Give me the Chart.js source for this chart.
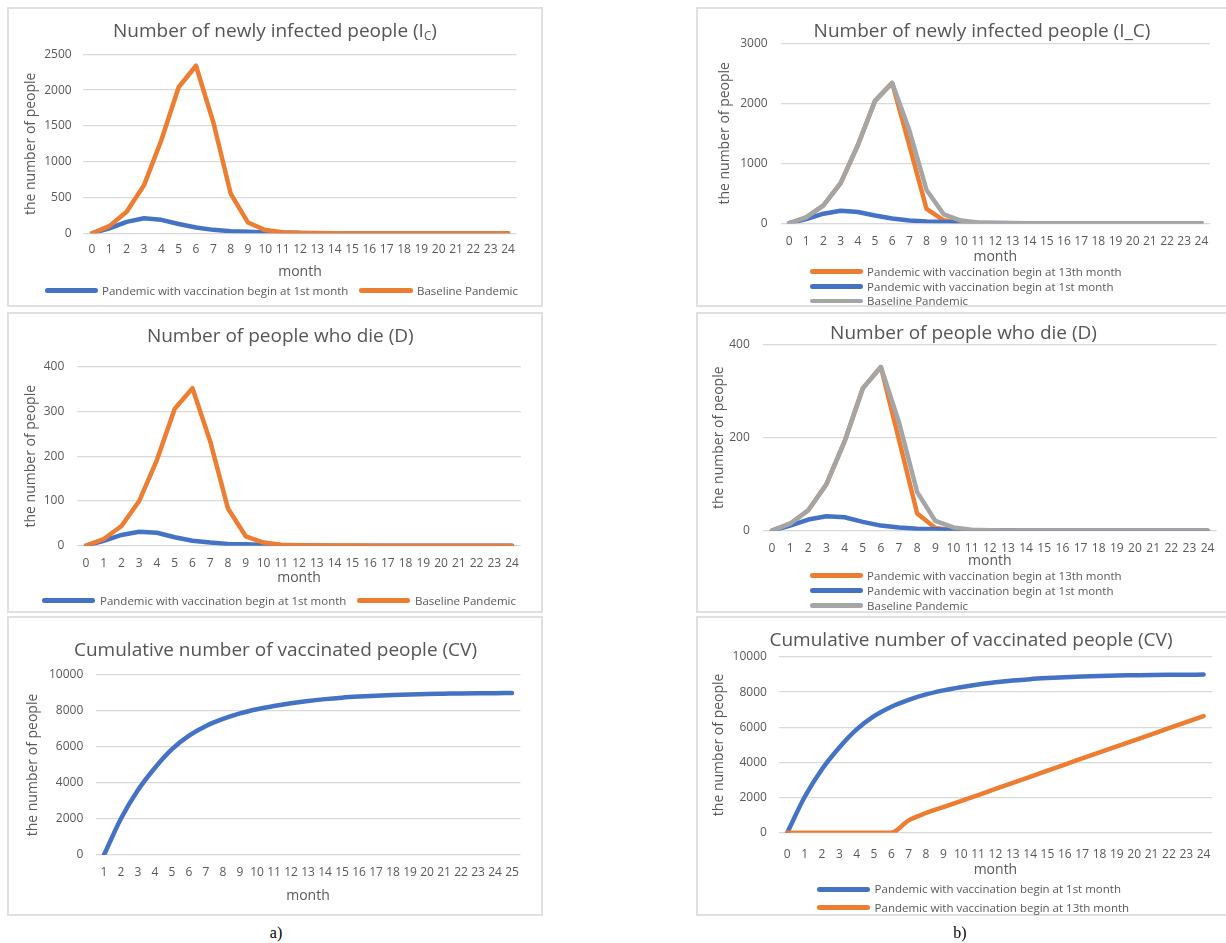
<!DOCTYPE html>
<html><head><meta charset="utf-8">
<script src="https://cdn.jsdelivr.net/npm/chart.js@4.4.0/dist/chart.umd.min.js"></script>
<style>
html,body{margin:0;padding:0;background:#fff;}
body{width:1226px;height:943px;position:relative;overflow:hidden;font-family:'Open Sans',sans-serif;}
.panel{position:absolute;box-sizing:border-box;border:2px solid #e0e0e0;}
canvas{position:absolute;}
.title{position:absolute;transform:translate(-50%,-50%);white-space:nowrap;color:#555555;font-size:19px;line-height:1.2;}
.title sub{font-size:0.62em;vertical-align:-0.3em;line-height:0;}
.legtxt{position:absolute;white-space:nowrap;color:#595959;font-size:11.5px;line-height:14px;}
.legline{position:absolute;height:4.5px;border-radius:2.25px;}
.cap{position:absolute;transform:translate(-50%,-50%);font-family:'Liberation Serif',serif;font-size:16px;color:#000;}
</style></head><body>
<script>
// ---------------- data ----------------
const months = ['0','1','2','3','4','5','6','7','8','9','10','11','12','13','14','15','16','17','18','19','20','21','22','23','24'];
const cvMonths = ['1','2','3','4','5','6','7','8','9','10','11','12','13','14','15','16','17','18','19','20','21','22','23','24','25'];

const infectedBaseline = [0,100,300,670,1300,2040,2340,1550,555,150,45,15,6,3,2,1,1,1,0,0,0,0,0,0,0];
const infectedVacc1st  = [0,70,160,210,188,130,80,48,30,20,12,6,3,2,1,1,0,0,0,0,0,0,0,0,0];
const infectedVacc13th = [0,100,300,670,1300,2040,2340,1300,240,50,8,2,1,0,0,0,0,0,0,0,0,0,0,0,0];

const deathsBaseline = [0,15,44,100,192,306,352,233,83,21,7,2,1,0.5,0.3,0.2,0.1,0.1,0,0,0,0,0,0,0];
const deathsVacc1st  = [0,11,24,31,29,19,11,7,4,3,1.5,0.8,0.4,0.2,0.1,0,0,0,0,0,0,0,0,0,0];
const deathsVacc13th = [0,15,44,100,192,306,352,195,37,6,1,0.2,0,0,0,0,0,0,0,0,0,0,0,0,0];

const cvVacc1st  = [0,2030,3610,4850,5880,6630,7170,7560,7870,8100,8280,8430,8560,8660,8740,8800,8850,8890,8920,8945,8960,8975,8985,8992,9000];
const cvVacc13th = [0,0,0,0,0,0,0,700,1120,1460,1800,2145,2490,2835,3180,3530,3880,4225,4570,4910,5250,5600,5950,6300,6640];

const nameVacc1st = 'Pandemic with vaccination begin at 1st month';
const nameVacc13th = 'Pandemic with vaccination begin at 13th month';
const nameBaseline = 'Baseline Pandemic';

// ---------------- styles ----------------
const BLUE = '#4472C4', ORANGE = '#ED7D31', GRAY = '#A5A5A5';
const TXT = '#595959', GRID = '#d9d9d9';
const FONT = "'Open Sans', sans-serif";
const TICK_FONT = 12, YT_FONT = 14, XT_FONT = 14, LINE_W = 4.5;

// ---------------- layout ----------------
const panels = [
  {x:7,y:7,w:536,h:300},{x:7,y:312,w:536,h:301},{x:7,y:616,w:536,h:300},
  {x:696,y:7,w:532,h:300},{x:696,y:312,w:532,h:301},{x:696,y:616,w:532,h:300}
];

const charts = [
  { // a) infected
    rect:{x:8,y:8,w:534,h:298},
    spec:{L:83.3,R:516.7,T:54.3,B:233.3,yLabR:71.7,yTitleX:31,xLabY:250,xTitleY:271.7},
    title:'Number of newly infected people (I<sub>C</sub>)', titlePos:[275,30],
    labels:months, yMax:2500, yStep:500, smooth:false,
    series:[{name:nameVacc1st,data:infectedVacc1st,color:BLUE,order:1},
            {name:nameBaseline,data:infectedBaseline,color:ORANGE,order:0}],
    legend:[{i:0,x1:45,x2:98,tx:102,y:290.7},{i:1,x1:359,x2:413,tx:417,y:290.7}]
  },
  { // a) deaths
    rect:{x:8,y:313,w:534,h:299},
    spec:{L:77.1,R:520.9,T:366.7,B:545.7,yLabR:64.3,yTitleX:31,xLabY:563.3,xTitleY:577.7},
    title:'Number of people who die (D)', titlePos:[280.3,335],
    labels:months, yMax:400, yStep:100, smooth:false,
    series:[{name:nameVacc1st,data:deathsVacc1st,color:BLUE,order:1},
            {name:nameBaseline,data:deathsBaseline,color:ORANGE,order:0}],
    legend:[{i:0,x1:42,x2:95,tx:100,y:600.7},{i:1,x1:357,x2:410,tx:415,y:600.7}]
  },
  { // a) CV
    rect:{x:8,y:617,w:534,h:298},
    spec:{L:95.5,R:520.5,T:675,B:855,yLabR:83.3,yTitleX:33,xLabY:872.7,xTitleY:896},
    title:'Cumulative number of vaccinated people (CV)', titlePos:[275.5,649],
    labels:cvMonths, yMax:10000, yStep:2000, smooth:true,
    series:[{name:nameVacc1st,data:cvVacc1st,color:BLUE,order:0}],
    legend:[]
  },
  { // b) infected
    rect:{x:697,y:8,w:528,h:298},
    spec:{L:780.5,R:1210,T:43.3,B:223.3,yLabR:767.6,yTitleX:724.7,xLabY:241.7,xTitleY:256.7},
    title:'Number of newly infected people (I_C)', titlePos:[982,30],
    labels:months, yMax:3000, yStep:1000, smooth:false,
    series:[{name:nameVacc13th,data:infectedVacc13th,color:ORANGE,order:2},
            {name:nameVacc1st,data:infectedVacc1st,color:BLUE,order:1},
            {name:nameBaseline,data:infectedBaseline,color:GRAY,order:0}],
    legend:[{i:0,x1:809.7,x2:862.6,tx:867.1,y:271.7},{i:1,x1:809.7,x2:862.6,tx:867.1,y:286.7},{i:2,x1:809.7,x2:862.6,tx:867.1,y:301}]
  },
  { // b) deaths
    rect:{x:697,y:313,w:528,h:299},
    spec:{L:762.9,R:1217.1,T:344.7,B:530.7,yLabR:749.8,yTitleX:719,xLabY:548.3,xTitleY:560.7},
    title:'Number of people who die (D)', titlePos:[963.5,331.7],
    labels:months, yMax:400, yStep:200, smooth:false,
    series:[{name:nameVacc13th,data:deathsVacc13th,color:ORANGE,order:2},
            {name:nameVacc1st,data:deathsVacc1st,color:BLUE,order:1},
            {name:nameBaseline,data:deathsBaseline,color:GRAY,order:0}],
    legend:[{i:0,x1:809.7,x2:862.6,tx:867.1,y:575.7},{i:1,x1:809.7,x2:862.6,tx:867.1,y:590.7},{i:2,x1:809.7,x2:862.6,tx:867.1,y:605.7}]
  },
  { // b) CV
    rect:{x:697,y:617,w:528,h:298},
    spec:{L:778.6,R:1217.8,T:657,B:832.7,yLabR:766.9,yTitleX:719,xLabY:854.3,xTitleY:870.3},
    title:'Cumulative number of vaccinated people (CV)', titlePos:[971,638.7],
    labels:months, yMax:10000, yStep:2000, smooth:true,
    series:[{name:nameVacc1st,data:cvVacc1st,color:BLUE,order:1},
            {name:nameVacc13th,data:cvVacc13th,color:ORANGE,order:0}],
    legend:[{i:0,x1:817.2,x2:870.2,tx:874.6,y:889.3},{i:1,x1:817.2,x2:870.2,tx:874.6,y:907.7}]
  }
];

const captions = [{text:'a)',x:276,y:933},{text:'b)',x:960,y:933}];

// ---------------- build ----------------
function el(tag, cls, css){ const e=document.createElement(tag); if(cls) e.className=cls; Object.assign(e.style, css||{}); document.body.appendChild(e); return e; }

panels.forEach(p => el('div','panel',{left:p.x+'px',top:p.y+'px',width:p.w+'px',height:p.h+'px'}));

function build(cfg){
  const {rect, spec} = cfg;
  const cv = el('canvas', null, {left:rect.x+'px', top:rect.y+'px'});
  cv.width = rect.w; cv.height = rect.h;
  const l = spec.L - rect.x, r = spec.R - rect.x, t = spec.T - rect.y, b = spec.B - rect.y;
  const tickLH = TICK_FONT*1.2, yLH = YT_FONT*1.2, xLH = XT_FONT*1.2;
  const xBottom = spec.xTitleY - rect.y + xLH/2;
  new Chart(cv, {
    type:'line',
    data:{
      labels: cfg.labels,
      datasets: cfg.series.map(s => ({
        label:s.name, data:s.data, borderColor:s.color, backgroundColor:s.color,
        borderWidth:LINE_W, pointRadius:0, pointHoverRadius:0,
        tension: cfg.smooth ? 0.4 : 0, cubicInterpolationMode: cfg.smooth ? 'monotone' : 'default',
        borderCapStyle:'round', borderJoinStyle:'round', fill:false, order:s.order
      }))
    },
    options:{
      responsive:false, animation:false, events:[],
      layout:{padding:{left:0, top:t, right:rect.w - r, bottom:rect.h - xBottom}},
      plugins:{legend:{display:false}, title:{display:false}, tooltip:{enabled:false}},
      scales:{
        x:{
          type:'category', offset:true,
          grid:{display:false, drawTicks:false}, border:{display:false},
          ticks:{autoSkip:false, maxRotation:0, minRotation:0, padding:(spec.xLabY - spec.B) - tickLH/2,
                 color:TXT, font:{family:FONT, size:TICK_FONT}},
          title:{display:true, text:'month', color:TXT, font:{family:FONT, size:XT_FONT}, padding:{top:0, bottom:0}},
          afterFit:(s) => { s.height = xBottom - b; }
        },
        y:{
          min:0, max:cfg.yMax,
          grid:{color:GRID, lineWidth:1.3, drawTicks:false}, border:{display:false},
          ticks:{stepSize:cfg.yStep, padding:spec.L - spec.yLabR, color:TXT, font:{family:FONT, size:TICK_FONT},
                 callback:(v) => String(v)},
          title:{display:true, text:'the number of people', color:TXT, font:{family:FONT, size:YT_FONT},
                 padding:{top:(spec.yTitleX - rect.x) - yLH/2, bottom:0}},
          afterFit:(s) => { s.width = l; }
        }
      }
    }
  });
  const tt = el('div','title',{left:cfg.titlePos[0]+'px', top:cfg.titlePos[1]+'px'});
  tt.innerHTML = cfg.title;
  cfg.legend.forEach(it => {
    const s = cfg.series[it.i];
    el('div','legline',{left:it.x1+'px', top:(it.y-2.25)+'px', width:(it.x2-it.x1)+'px', background:s.color});
    const tx = el('div','legtxt',{left:it.tx+'px', top:(it.y-7)+'px'});
    tx.textContent = s.name;
  });
}

charts.forEach(build);
captions.forEach(c => { const e = el('div','cap',{left:c.x+'px', top:c.y+'px'}); e.textContent = c.text; });
</script>
</body></html>
